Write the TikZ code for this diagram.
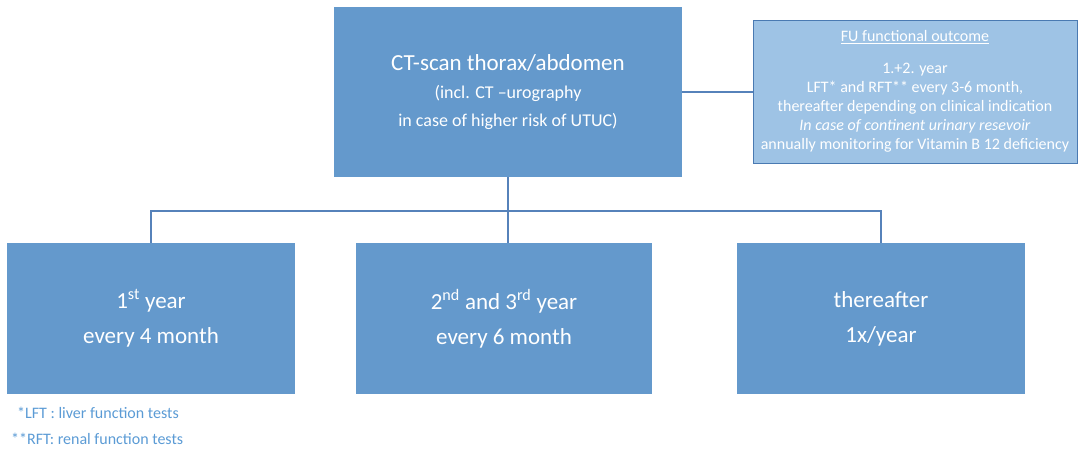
\documentclass[tikz,border=0pt]{standalone}
\usepackage{fontspec}
\setmainfont{Carlito}
\usepackage{tikz}
\usetikzlibrary{positioning}
\usepackage{xcolor}

\definecolor{boxblue}{RGB}{100,153,204}
\definecolor{fublue}{RGB}{158,195,229}
\definecolor{fuedge}{RGB}{74,122,178}
\definecolor{linkblue}{RGB}{86,130,186}
\definecolor{noteblue}{RGB}{91,155,213}

\begin{document}
\begin{tikzpicture}[
        x=1pt, y=-1pt,
        stage/.style={rectangle, fill=boxblue, text=white, align=center, inner sep=0pt},
        year/.style={stage, minimum width=288pt, minimum height=151pt, font=\fontsize{23}{35}\selectfont},
        fubox/.style={rectangle, draw=fuedge, line width=0.9pt, fill=fublue, text=white, align=center, inner sep=0pt,
            minimum width=324pt, minimum height=143pt, font=\fontsize{16}{19}\selectfont},
        note/.style={anchor=base west, text=noteblue, inner sep=0pt, font=\fontsize{16}{18}\selectfont},
        link/.style={draw=linkblue, line width=1.1pt}
    ]
    \useasboundingbox (0,0) rectangle (1080,449);

    % Nodes
    \node[stage, minimum width=348pt, minimum height=170pt, font=\fontsize{18}{28}\selectfont] (ct) at (508,92)
        {{\fontsize{23}{28}\selectfont CT-scan thorax/abdomen}\\
         (incl. CT --urography\\
         in case of higher risk of UTUC)};

    \node[fubox] (fu) at (915,91.5)
        {\underline{FU functional outcome}\\[13pt]
         1.+2. year\\
         LFT* and RFT** every 3-6 month,\\
         thereafter depending on clinical indication\\
         \textit{In case of continent urinary resevoir}\\
         annually monitoring for Vitamin B 12 deficiency};

    \node[year] (first) at (151,318.5)
        {1\textsuperscript{st} year\\every 4 month};
    \node[year, minimum width=296pt] (second) at (504,318.5)
        {2\textsuperscript{nd} and 3\textsuperscript{rd} year\\every 6 month};
    \node[year] (later) at (881,318.5)
        {thereafter\\1x/year};

    \coordinate (bus) at (508,211);

    % Footnotes
    \node[note] (lft) at (17,418) {*LFT : liver function tests};
    \node[note] (rft) at (11,444) {**RFT: renal function tests};

    % Connectors
    \draw[link] (ct.east) -- (ct.east -| fu.west);
    \draw[link] (ct.south) -- (ct.south |- second.north);
    \draw[link] (first.north) |- (bus) -| (later.north);

\end{tikzpicture}
\end{document}
